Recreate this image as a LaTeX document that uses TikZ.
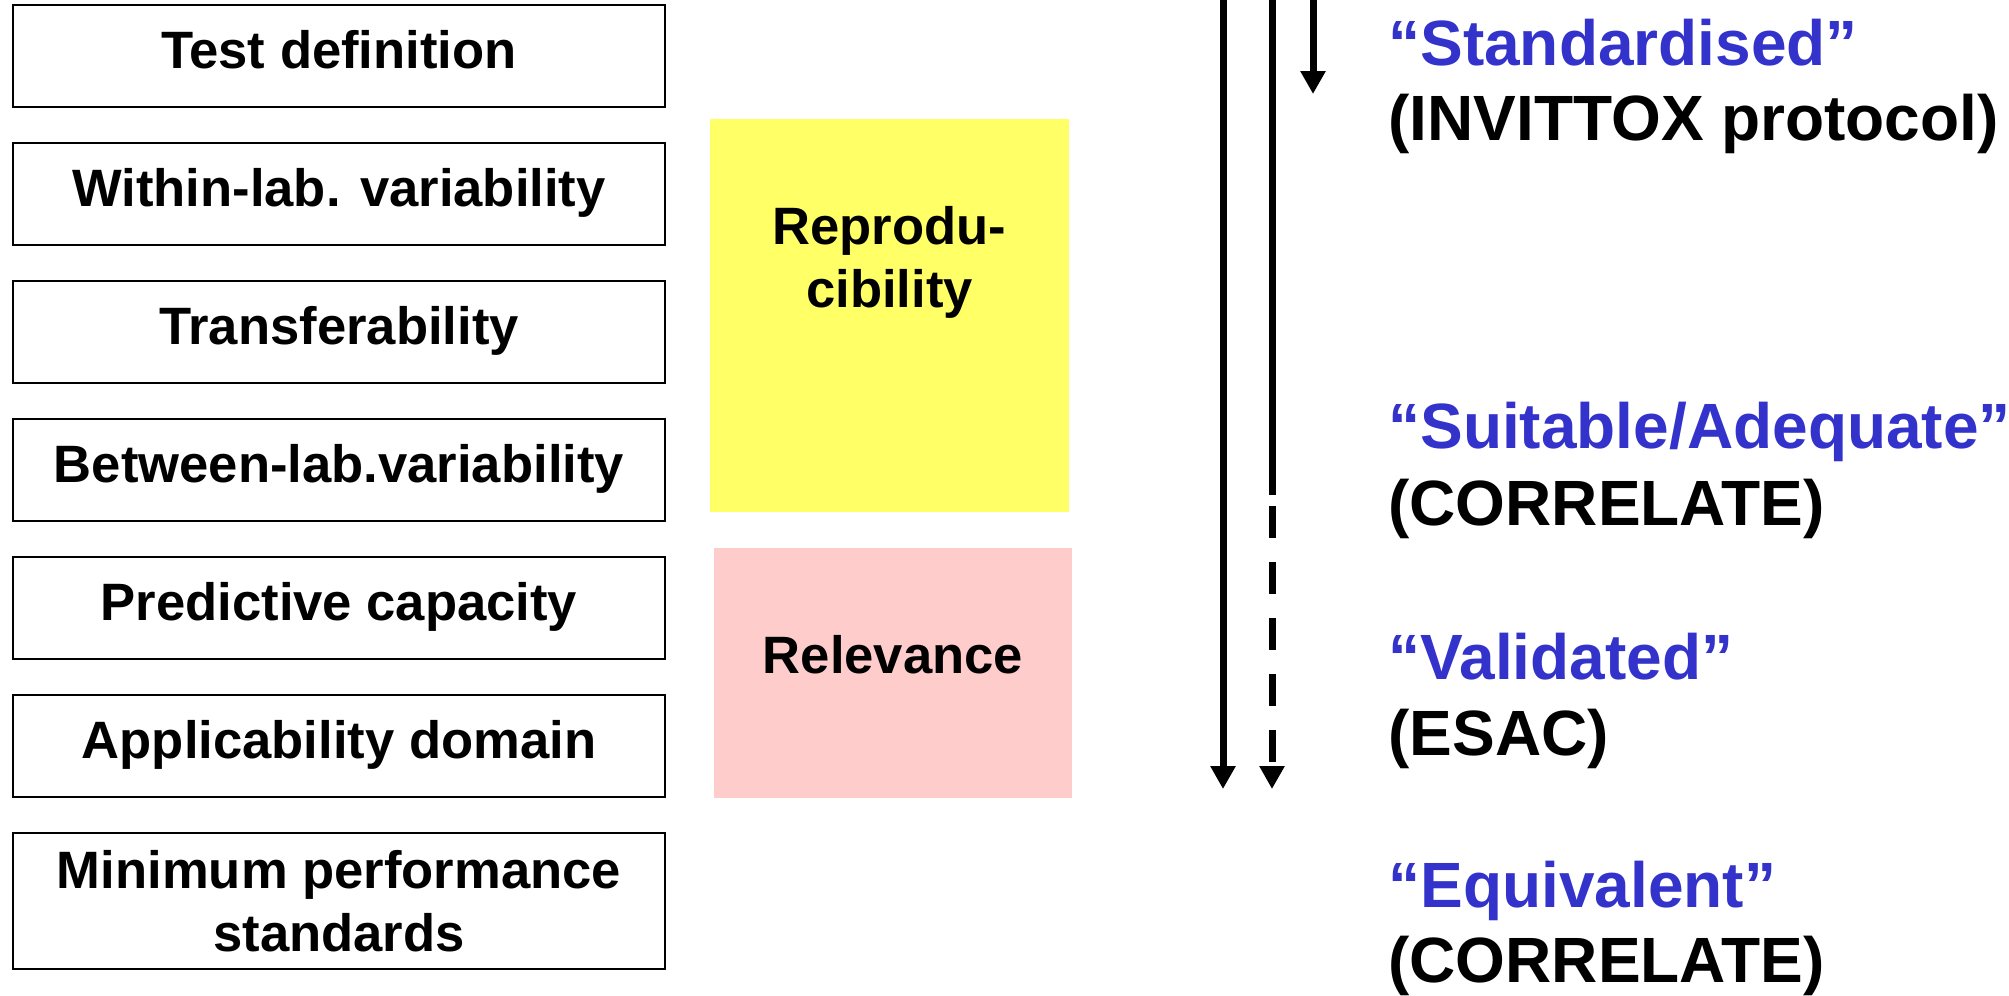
\documentclass[tikz,border=0pt]{standalone}
\usepackage{fontspec}
\setmainfont{Liberation Sans}
\usetikzlibrary{positioning,arrows.meta}
\definecolor{stageblue}{HTML}{3333CC}
\definecolor{reprofill}{HTML}{FFFF66}
\definecolor{relevfill}{HTML}{FFCCCC}

\begin{document}
\begin{tikzpicture}[
    x=0.5pt, y=-0.5pt,
    node distance=17pt,
    criterion/.style={rectangle, minimum width=326pt, minimum height=51pt,
                      text centered, draw=black, line width=1pt, fill=white, align=center,
                      text height=20pt, text depth=7.6pt,
                      font=\fontsize{26.3}{31.5}\selectfont\bfseries},
    group/.style={rectangle, inner sep=0pt, draw=none},
    grouplabel/.style={inner sep=0pt, align=center, font=\fontsize{26.3}{31.5}\selectfont\bfseries},
    stage/.style={anchor=base west, inner sep=0pt, font=\fontsize{32}{38.5}\selectfont\bfseries},
    arrow/.style={-{Triangle[width=12pt,length=11.5pt]}, line width=3.5pt, black}
]
\useasboundingbox (0,0) rectangle (2009,996);

% Criteria
\node[criterion] (testdef) at (339,56) {Test definition};
\node[criterion, below=of testdef] (withinlab) {Within-lab. variability};
\node[criterion, below=of withinlab] (transfer) {Transferability};
\node[criterion, below=of transfer] (betweenlab) {Between-lab.variability};
\node[criterion, below=of betweenlab] (predictive) {Predictive capacity};
\node[criterion, below=of predictive] (applicability) {Applicability domain};
\node[criterion, text height=, text depth=, minimum height=68pt, below=of applicability] (minperf) {
    Minimum performance\\
    standards
};

% Groups
\node[group, fill=reprofill, minimum width=179.5pt, minimum height=196.5pt] (repro) at (889.5,315.5) {};
\node[grouplabel, below=43.5pt of repro.north] (reprotext) {Reprodu-\\cibility};

\node[group, fill=relevfill, minimum width=179pt, minimum height=125pt] (relevance) at (893,673) {};
\node[grouplabel] (relevancetext) at ([yshift=9pt]relevance.center) {Relevance};

% Arrows
\coordinate (solidtop) at (1223,0);
\coordinate (solidend) at (1223,789);
\coordinate (dashtop) at (1272,0);
\coordinate (dashbreak) at (1272,495);
\coordinate (dashstart) at (1272,506);
\coordinate (dashend) at (1272,789);
\coordinate (shorttop) at (1313,0);
\coordinate (shortend) at (1313,94);

\draw[arrow] (solidtop) -- (solidend);
\draw[line width=3.5pt] (dashtop) -- (dashbreak);
\draw[arrow, dash pattern=on 16pt off 12pt] (dashstart) -- (dashend);
\draw[arrow] (shorttop) -- (shortend);

% Stage labels
\node[stage, text=stageblue] (standardised) at (1388,65) {“Standardised”};
\node[stage] (invittox) at (1388,140) {(INVITTOX protocol)};
\node[stage, text=stageblue] (suitable) at (1388,448) {“Suitable/Adequate”};
\node[stage] (correlate) at (1388,525) {(CORRELATE)};
\node[stage, text=stageblue] (validated) at (1388,679) {“Validated”};
\node[stage] (esac) at (1388,755) {(ESAC)};
\node[stage, text=stageblue] (equivalent) at (1388,907) {“Equivalent”};
\node[stage] (correlatefinal) at (1388,982) {(CORRELATE)};

\end{tikzpicture}
\end{document}
